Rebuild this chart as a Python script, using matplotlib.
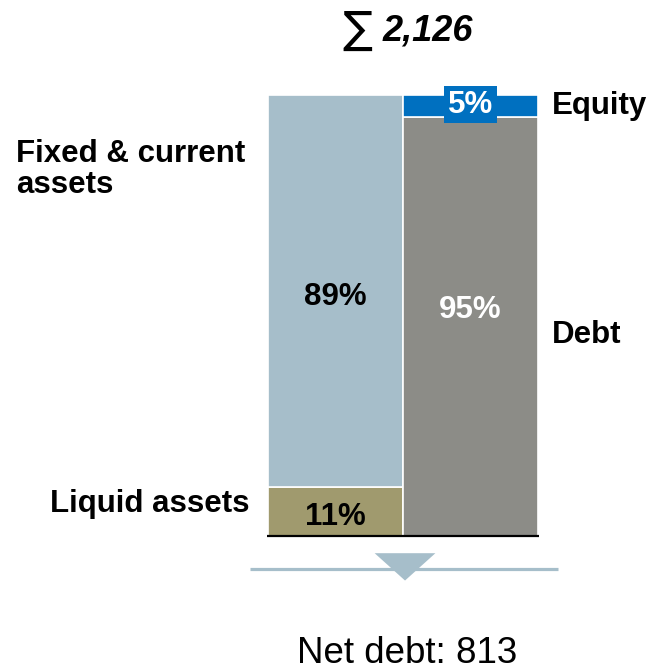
"""Balance sheet structure: assets vs. equity & debt (stacked 100% bars)"""

import matplotlib

matplotlib.use("Agg")
import matplotlib.pyplot as plt  # noqa: E402
from matplotlib.patches import Polygon  # noqa: E402

plt.rcParams["font.family"] = ["Liberation Sans", "DejaVu Sans"]

# data
total = "2,126"
net_debt = "813"
asset_labels = ["Liquid assets", "Fixed & current\nassets"]
asset_shares = [11, 89]
funding_labels = ["Debt", "Equity"]
funding_shares = [95, 5]

C_LIQUID = "#A09A6E"
C_FIXED = "#A6BECA"
C_DEBT = "#8C8C87"
C_EQUITY = "#0070C0"

fig = plt.figure(figsize=(6.49, 6.71), dpi=100)
ax = fig.add_axes([268 / 649, 135 / 671, 270 / 649, 441 / 671])
ax.set_xlim(-0.5, 1.5)
ax.set_ylim(0, 100)
ax.axis("off")

# left bar: assets
ax.bar(0, asset_shares[0], width=1, color=C_LIQUID, edgecolor="white", linewidth=1.2)
ax.bar(0, asset_shares[1], bottom=asset_shares[0], width=1, color=C_FIXED,
       edgecolor="white", linewidth=1.2)
# right bar: funding
ax.bar(1, funding_shares[0], width=1, color=C_DEBT, edgecolor="white", linewidth=1.2)
ax.bar(1, funding_shares[1], bottom=funding_shares[0], width=1, color=C_EQUITY,
       edgecolor="white", linewidth=1.2)

ax.plot([-0.51, 1.51], [0, 0], color="black", lw=1.6, clip_on=False,
        solid_capstyle="butt")

fs = 22.5
# values inside bars
ax.text(0, asset_shares[0] / 2 - 1.2, f"{asset_shares[0]}%", ha="center", va="center",
        fontsize=fs, fontweight="bold", color="black")
ax.text(0, asset_shares[0] + asset_shares[1] / 2 - 1.4, f"{asset_shares[1]}%",
        ha="center", va="center", fontsize=fs, fontweight="bold", color="black")
ax.text(1, funding_shares[0] / 2 + 3.7, f"{funding_shares[0]}%", ha="center",
        va="center", fontsize=fs, fontweight="bold", color="white")
ax.text(1, funding_shares[0] + funding_shares[1] / 2 + 0.3, f"{funding_shares[1]}%",
        ha="center", va="center", fontsize=fs, fontweight="bold", color="white",
        bbox=dict(boxstyle="square,pad=0.12", fc=C_EQUITY, ec="none"), clip_on=False)

# side labels
ax.text(-0.64, asset_shares[0] / 2 + 1.8, asset_labels[0], ha="right", va="center",
        fontsize=fs, fontweight="bold", clip_on=False)
ax.text(-2.367, 90, asset_labels[1], ha="left", va="top", fontsize=fs,
        fontweight="bold", linespacing=1.05, clip_on=False)
ax.text(1.6, funding_shares[0] / 2 - 1.9, funding_labels[0], ha="left", va="center",
        fontsize=fs, fontweight="bold", clip_on=False)
ax.text(1.6, 97.6, funding_labels[1], ha="left", va="center", fontsize=fs,
        fontweight="bold", clip_on=False)

# total on top
ax.text(0.27, 114.6, "\u2211", ha="right", va="center", fontsize=32,
        family=["DejaVu Sans"], fontstyle="italic", fontweight="light", clip_on=False)
ax.text(0.352, 114.6, total, ha="left", va="center", fontsize=26,
        fontweight="bold", fontstyle="italic", clip_on=False)

# arrow separator
ax.plot([-0.63, 1.65], [-7.5, -7.5], color=C_FIXED, lw=2.3, clip_on=False,
        solid_capstyle="butt")
tri = Polygon([[0.29, -3.9], [0.74, -3.9], [0.515, -10.1]], closed=True,
              fc=C_FIXED, ec="white", lw=7, joinstyle="miter", clip_on=False)
tri2 = Polygon([[0.29, -3.9], [0.74, -3.9], [0.515, -10.1]], closed=True,
               fc=C_FIXED, ec="none", clip_on=False)
ax.add_patch(tri)
ax.add_patch(tri2)

ax.text(0.53, -26.7, f"Net debt: {net_debt}", ha="center", va="center",
        fontsize=26.5, clip_on=False)

fig.savefig("out.png", dpi=100)
